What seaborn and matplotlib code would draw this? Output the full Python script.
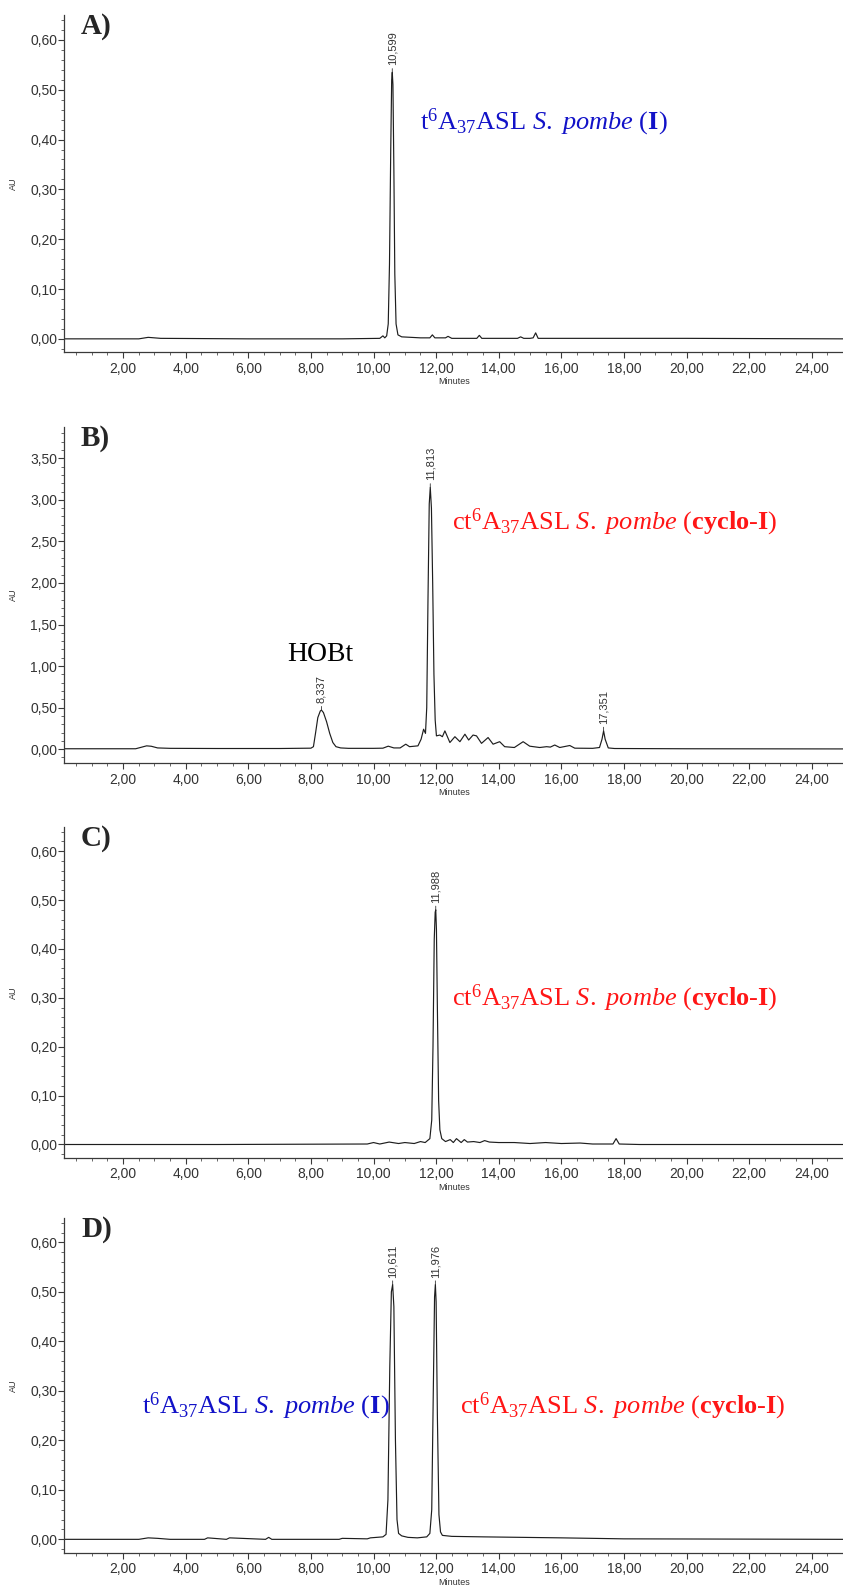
import numpy as np
import pandas as pd
import seaborn as sns
import matplotlib
matplotlib.use("Agg")
import matplotlib.pyplot as plt
from matplotlib.ticker import MultipleLocator, FuncFormatter

# ---------------- data ----------------
t_A = [0.12, 2.5, 2.8, 3.2, 6.0, 9.0, 10.20, 10.30, 10.36, 10.42, 10.47, 10.51, 10.55, 10.58, 10.599,
       10.62, 10.65, 10.68, 10.72, 10.78, 10.90, 11.5, 11.80, 11.88, 11.96, 12.10, 12.30, 12.38,
       12.50, 13.30, 13.38, 13.46, 14.60, 14.70, 14.80, 15.00, 15.10, 15.18, 15.26, 16.0, 20.0, 25.0]
AU_A = [0.0, 0.0, 0.003, 0.001, 0.0, 0.0, 0.001, 0.006, 0.002, 0.006, 0.03, 0.15, 0.38, 0.52, 0.535,
        0.51, 0.34, 0.13, 0.03, 0.008, 0.004, 0.002, 0.002, 0.008, 0.002, 0.002, 0.002, 0.005,
        0.001, 0.001, 0.007, 0.001, 0.001, 0.004, 0.001, 0.001, 0.002, 0.012, 0.001, 0.001, 0.001, 0.0]

t_B = [0.12, 2.4, 2.6, 2.75, 2.9, 3.1, 3.5, 5.0, 7.0, 8.0, 8.08, 8.15, 8.22, 8.30, 8.337, 8.40, 8.50,
       8.60, 8.70, 8.80, 8.95, 9.2, 10.0, 10.3, 10.47, 10.65, 10.85, 11.03, 11.15, 11.42, 11.52, 11.60,
       11.66, 11.70, 11.74, 11.78, 11.813, 11.85, 11.89, 11.93, 11.97, 12.01, 12.12, 12.20, 12.28,
       12.44, 12.60, 12.76, 12.92, 13.04, 13.18, 13.29, 13.45, 13.66, 13.82, 14.03, 14.19, 14.5, 14.78,
       14.99, 15.31, 15.53, 15.65, 15.79, 15.95, 16.27, 16.43, 17.0, 17.22, 17.30, 17.351, 17.40, 17.50,
       17.7, 20.0, 25.0]
AU_B = [0.005, 0.005, 0.025, 0.04, 0.035, 0.015, 0.01, 0.008, 0.008, 0.012, 0.03, 0.2, 0.38, 0.46, 0.47,
        0.44, 0.33, 0.19, 0.08, 0.03, 0.015, 0.01, 0.01, 0.012, 0.036, 0.015, 0.015, 0.06, 0.03, 0.04,
        0.12, 0.24, 0.19, 0.5, 1.8, 2.95, 3.15, 2.9, 2.0, 0.9, 0.35, 0.16, 0.17, 0.15, 0.22,
        0.08, 0.15, 0.09, 0.18, 0.11, 0.17, 0.16, 0.07, 0.14, 0.06, 0.09, 0.03, 0.02, 0.09,
        0.036, 0.02, 0.03, 0.025, 0.05, 0.02, 0.044, 0.012, 0.01, 0.02, 0.12, 0.22, 0.12, 0.015,
        0.008, 0.005, 0.003]

t_C = [0.12, 5.0, 9.8, 10.0, 10.2, 10.5, 10.8, 11.0, 11.3, 11.5, 11.65, 11.80, 11.86, 11.90, 11.94,
       11.97, 11.988, 12.01, 12.04, 12.08, 12.12, 12.18, 12.3, 12.45, 12.55, 12.65, 12.8, 12.9, 13.0,
       13.2, 13.4, 13.55, 13.7, 14.0, 14.5, 15.0, 15.5, 16.0, 16.6, 17.0, 17.65, 17.75, 17.85, 18.5, 25.0]
AU_C = [0.0, 0.0, 0.001, 0.004, 0.001, 0.005, 0.002, 0.004, 0.002, 0.006, 0.004, 0.012, 0.05, 0.2, 0.42,
        0.475, 0.48, 0.44, 0.28, 0.09, 0.03, 0.012, 0.006, 0.01, 0.004, 0.012, 0.004, 0.01, 0.005,
        0.006, 0.004, 0.008, 0.005, 0.004, 0.004, 0.002, 0.004, 0.002, 0.003, 0.001, 0.001, 0.012,
        0.001, 0.0, 0.0]

t_D = [0.12, 2.5, 2.8, 3.1, 3.5, 4.6, 4.7, 5.3, 5.4, 6.55, 6.65, 6.75, 8.9, 9.0, 9.8, 9.9, 10.3, 10.40,
       10.46, 10.52, 10.57, 10.611, 10.65, 10.70, 10.75, 10.80, 10.9, 11.1, 11.4, 11.7, 11.80, 11.86,
       11.91, 11.95, 11.976, 12.00, 12.04, 12.09, 12.14, 12.2, 12.5, 13.5, 16.0, 18.0, 25.0]
AU_D = [0.0, 0.0, 0.003, 0.002, 0.0, 0.0, 0.003, 0.0, 0.003, 0.0, 0.004, 0.0, 0.0, 0.002, 0.001, 0.003,
        0.005, 0.01, 0.08, 0.35, 0.5, 0.515, 0.47, 0.2, 0.04, 0.012, 0.007, 0.004, 0.003, 0.005, 0.012,
        0.06, 0.3, 0.49, 0.515, 0.48, 0.25, 0.05, 0.015, 0.008, 0.006, 0.005, 0.003, 0.001, 0.0]

peaks_A = [(10.599, 0.535, "10,599")]
peaks_B = [(8.337, 0.47, "8,337"), (11.813, 3.15, "11,813"), (17.351, 0.22, "17,351")]
peaks_C = [(11.988, 0.48, "11,988")]
peaks_D = [(10.611, 0.515, "10,611"), (11.976, 0.515, "11,976")]

panel_letters = ["A)", "B)", "C)", "D)"]
lbl_I = r"t$^{6}$A$_{37}$ASL $\mathit{S.\ pombe}$ ($\mathbf{I}$)"
lbl_cyc = r"ct$^{6}$A$_{37}$ASL $\mathit{S.\ pombe}$ ($\mathbf{cyclo}$-$\mathbf{I}$)"

# ---------------- style ----------------
sns.set_style("ticks")
plt.rcParams["font.family"] = ["Liberation Sans", "DejaVu Sans"]
plt.rcParams["mathtext.fontset"] = "custom"
plt.rcParams["mathtext.rm"] = "Liberation Serif"
plt.rcParams["mathtext.it"] = "Liberation Serif:italic"
plt.rcParams["mathtext.bf"] = "Liberation Serif:bold"

W, H = 843, 1587
fig = plt.figure(figsize=(W / 100, H / 100), dpi=100)

# axes boxes in pixels: (top, bottom)
boxes = [(15, 352.3), (426.7, 763.3), (826.7, 1157.7), (1217.7, 1552.7)]
left_px = 64.3

datasets = [(t_A, AU_A), (t_B, AU_B), (t_C, AU_C), (t_D, AU_D)]
peaks = [peaks_A, peaks_B, peaks_C, peaks_D]
ylims = [(-0.027, 0.65), (-0.17, 3.88), (-0.027, 0.65), (-0.027, 0.65)]
ymaj = [0.1, 0.5, 0.1, 0.1]
ymin = [0.02, 0.1, 0.02, 0.02]

comma = FuncFormatter(lambda v, p: f"{v:.2f}".replace(".", ","))
axc = "#3a3a3a"
BLUE = "#1212c8"
RED = "#ff1616"

for i, ((top, bot), (tt, yy)) in enumerate(zip(boxes, datasets)):
    ax = fig.add_axes([left_px / W, 1 - bot / H, (W - left_px) / W, (bot - top) / H])
    df = pd.DataFrame({"Minutes": tt, "AU": yy})
    sns.lineplot(data=df, x="Minutes", y="AU", ax=ax, color="#1e1e1e", lw=0.85,
                 estimator=None, sort=False)
    ax.set_xlim(0.12, 25.0)
    ax.set_ylim(*ylims[i])
    for s in ["top", "right"]:
        ax.spines[s].set_visible(False)
    for s in ["left", "bottom"]:
        ax.spines[s].set_color(axc)
        ax.spines[s].set_linewidth(0.9)
    ax.xaxis.set_major_locator(MultipleLocator(2))
    ax.xaxis.set_minor_locator(MultipleLocator(0.5))
    ax.yaxis.set_major_locator(MultipleLocator(ymaj[i]))
    ax.yaxis.set_minor_locator(MultipleLocator(ymin[i]))
    ax.xaxis.set_major_formatter(comma)
    ax.yaxis.set_major_formatter(comma)
    ax.tick_params(which="major", direction="out", length=4, width=0.8, color=axc,
                   labelsize=10, labelcolor="#333333")
    ax.tick_params(axis="x", which="major", pad=3)
    ax.tick_params(axis="y", which="major", pad=1)
    ax.tick_params(which="minor", direction="out", length=2.5, width=0.7, color="#666666")
    ax.set_xlabel("Minutes", fontsize=6.5, color="#333333", labelpad=1)
    ax.set_ylabel("AU", fontsize=6.5, color="#333333")
    ax.yaxis.set_label_coords(-0.059, 0.5)

    for (pt, ph, ptxt) in peaks[i]:
        ax.annotate(ptxt, xy=(pt, ph), xytext=(0, 5), textcoords="offset points",
                    rotation=90, ha="center", va="bottom", fontsize=8, color="#333333",
                    arrowprops=dict(arrowstyle="-", lw=0.6, color="#333333",
                                    shrinkA=0, shrinkB=0))

    fig.text(81 / W, 1 - (top - 2) / H, panel_letters[i], fontsize=21, fontweight="bold",
             family="Liberation Serif", ha="left", va="top")

    if i == 0:
        ax.text(11.48, 0.42, lbl_I, color=BLUE, fontsize=19, family="Liberation Serif",
                ha="left", va="baseline")
    elif i == 1:
        ax.text(12.5, 2.64, lbl_cyc, color=RED, fontsize=19, family="Liberation Serif",
                ha="left", va="baseline")
        ax.text(8.3, 1.06, "HOBt", color="black", fontsize=20, family="Liberation Serif",
                ha="center", va="baseline")
    elif i == 2:
        ax.text(12.5, 0.285, lbl_cyc, color=RED, fontsize=19, family="Liberation Serif",
                ha="left", va="baseline")
    else:
        ax.text(2.6, 0.255, lbl_I, color=BLUE, fontsize=19, family="Liberation Serif",
                ha="left", va="baseline")
        ax.text(12.75, 0.255, lbl_cyc, color=RED, fontsize=19, family="Liberation Serif",
                ha="left", va="baseline")

fig.savefig("out.png", dpi=100)
